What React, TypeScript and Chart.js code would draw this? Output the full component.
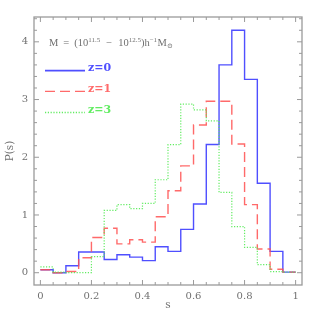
import React, { useEffect, useRef } from "react";
import { Chart, registerables } from "chart.js";

Chart.register(...registerables);

// bin edges (21 edges for 20 bins)
const binEdges = [
  0, 0.05, 0.1, 0.15, 0.2, 0.25, 0.3, 0.35, 0.4, 0.45, 0.5,
  0.55, 0.6, 0.65, 0.7, 0.75, 0.8, 0.85, 0.9, 0.95, 1.0,
];
const z0Values = [
  0.05, 0.0, 0.12, 0.36, 0.36, 0.23, 0.31, 0.27, 0.21, 0.45,
  0.37, 0.75, 1.19, 2.22, 3.6, 4.2, 3.35, 1.55, 0.37, 0.01,
];
const z1Values = [
  0.05, 0.0, 0.02, 0.26, 0.61, 0.77, 0.5, 0.57, 0.53, 0.97,
  1.42, 1.85, 2.56, 2.97, 2.97, 2.23, 1.18, 0.41, 0.06, 0.01,
];
const z3Values = [
  0.1, 0.01, 0.0, 0.0, 0.28, 1.08, 1.18, 1.11, 1.2, 1.61,
  2.22, 2.92, 2.82, 2.63, 1.39, 0.8, 0.44, 0.14, 0.02, 0.01,
];
const seriesLabels = ["z=0", "z=1", "z=3"];
const xTickValues = [0, 0.2, 0.4, 0.6, 0.8, 1];
const yTickValues = [0, 1, 2, 3, 4];

const BLUE = "rgba(70,70,255,0.95)";
const RED = "rgba(255,80,80,0.85)";
const GREEN = "rgba(90,235,90,0.95)";
const AXIS = "#9a9a9a";
const TEXT = "#707070";
const SERIF = '"Liberation Serif", "DejaVu Serif", serif';
const DSERIF = '"DejaVu Serif", "Liberation Serif", serif';

function toSteps(vals: number[]) {
  const pts = vals.map((v, i) => ({ x: binEdges[i], y: v }));
  pts.push({ x: binEdges[binEdges.length - 1], y: vals[vals.length - 1] });
  return pts;
}

const framePlugin = {
  id: "frameTicks",
  afterDraw(chart: any) {
    const { ctx, chartArea } = chart;
    const { left, right, top, bottom } = chartArea;
    const xs = chart.scales.x;
    const ys = chart.scales.y;
    ctx.save();
    ctx.strokeStyle = AXIS;
    ctx.lineWidth = 1.3;
    ctx.strokeRect(left, top, right - left, bottom - top);
    ctx.lineWidth = 1;
    ctx.beginPath();
    for (let i = 0; i <= 20; i++) {
      const v = i * 0.05;
      const px = xs.getPixelForValue(v);
      const len = i % 4 === 0 ? 5 : 3;
      ctx.moveTo(px, bottom);
      ctx.lineTo(px, bottom - len);
      ctx.moveTo(px, top);
      ctx.lineTo(px, top + len);
    }
    for (let i = 0; i <= 22; i++) {
      const v = i * 0.2;
      const py = ys.getPixelForValue(v);
      if (py < top) continue;
      const len = i % 5 === 0 ? 5 : 3;
      ctx.moveTo(left, py);
      ctx.lineTo(left + len, py);
      ctx.moveTo(right, py);
      ctx.lineTo(right - len, py);
    }
    ctx.stroke();

    // mass label: [text, kind, gap before]
    const pieces: [string, string, number][] = [
      ["M", "n", 0],
      ["=", "n", 5],
      ["(10", "n", 5],
      ["11.5", "sup", 0],
      ["\u2212", "n", 6],
      ["10", "n", 6],
      ["12.5", "sup", 0],
      [")h", "n", 0],
      ["\u22121", "sup", 0],
      ["M", "n", 0.5],
      ["\u2299", "sub", 0],
    ];
    let x = 49;
    const baseY = 46;
    ctx.fillStyle = TEXT;
    ctx.textBaseline = "alphabetic";
    ctx.textAlign = "left";
    for (const [t, kind, gap] of pieces) {
      x += gap;
      if (kind === "n") {
        ctx.font = `10.5px ${SERIF}`;
        ctx.fillText(t, x, baseY);
      } else if (kind === "sup") {
        ctx.font = `7px ${SERIF}`;
        ctx.fillText(t, x, baseY - 4.5);
      } else {
        ctx.font = `7px ${SERIF}`;
        ctx.fillText(t, x, baseY + 2);
      }
      x += ctx.measureText(t).width;
    }

    // legend
    const colors = [BLUE, RED, GREEN];
    const dashes = [[], [10, 5], [1.2, 1.6]];
    const lineYs = [70.7, 91.3, 112.5];
    seriesLabels.forEach((lab, i) => {
      ctx.strokeStyle = colors[i];
      ctx.lineWidth = i === 0 ? 1.8 : 1.3;
      ctx.setLineDash(dashes[i]);
      ctx.beginPath();
      ctx.moveTo(45, lineYs[i]);
      ctx.lineTo(85, lineYs[i]);
      ctx.stroke();
      ctx.setLineDash([]);
      ctx.fillStyle = colors[i];
      ctx.font = `bold 11px ${DSERIF}`;
      ctx.textBaseline = "middle";
      ctx.fillText(lab, 88, lineYs[i] - 2.5);
    });
    ctx.restore();
  },
};

export default function App() {
  const ref = useRef<HTMLCanvasElement>(null);
  useEffect(() => {
    document.body.style.margin = "0";
    const chart = new Chart(ref.current as HTMLCanvasElement, {
      type: "line",
      data: {
        datasets: [
          {
            label: seriesLabels[2],
            data: toSteps(z3Values),
            borderColor: GREEN,
            borderWidth: 1.2,
            borderDash: [1.2, 1.6],
            stepped: "before",
            pointRadius: 0,
            fill: false,
          },
          {
            label: seriesLabels[1],
            data: toSteps(z1Values),
            borderColor: RED,
            borderWidth: 1.4,
            borderDash: [10, 5],
            stepped: "before",
            pointRadius: 0,
            fill: false,
          },
          {
            label: seriesLabels[0],
            data: toSteps(z0Values),
            borderColor: BLUE,
            borderWidth: 1.4,
            stepped: "before",
            pointRadius: 0,
            fill: false,
          },
        ],
      },
      options: {
        animation: false,
        responsive: false,
        maintainAspectRatio: false,
        layout: { padding: { top: 17, right: 17, left: 0, bottom: 0 } },
        plugins: {
          legend: { display: false },
          tooltip: { enabled: false },
        },
        scales: {
          x: {
            type: "linear",
            min: -0.025,
            max: 1.025,
            grid: { display: false, drawTicks: false },
            border: { display: false },
            afterBuildTicks: (s: any) => {
              s.ticks = xTickValues.map((v) => ({ value: v }));
            },
            afterFit: (s: any) => {
              s.height = 34;
            },
            ticks: {
              color: TEXT,
              padding: 5,
              maxRotation: 0,
              font: { family: DSERIF, size: 10 },
              callback: (v: any) => String(Math.round(Number(v) * 10) / 10),
            },
            title: {
              display: true,
              text: "s",
              color: TEXT,
              font: { family: DSERIF, size: 10.5 },
              padding: { top: 7, bottom: 7 },
            },
          },
          y: {
            type: "linear",
            min: -0.213,
            max: 4.43,
            grid: { display: false, drawTicks: false },
            border: { display: false },
            afterBuildTicks: (s: any) => {
              s.ticks = yTickValues.map((v) => ({ value: v }));
            },
            afterFit: (s: any) => {
              s.width = 34;
            },
            ticks: {
              color: TEXT,
              padding: 6,
              font: { family: DSERIF, size: 10 },
              callback: (v: any) => String(v),
            },
            title: {
              display: true,
              text: "P(s)",
              color: TEXT,
              font: { family: DSERIF, size: 10.5 },
              padding: { top: 4, bottom: 4 },
            },
          },
        },
      },
      plugins: [framePlugin],
    } as any);
    return () => chart.destroy();
  }, []);
  return (
    <div style={{ position: "fixed", left: 0, top: 0, width: 319, height: 319 }}>
      <canvas ref={ref} width={319} height={319} style={{ width: 319, height: 319 }} />
    </div>
  );
}
